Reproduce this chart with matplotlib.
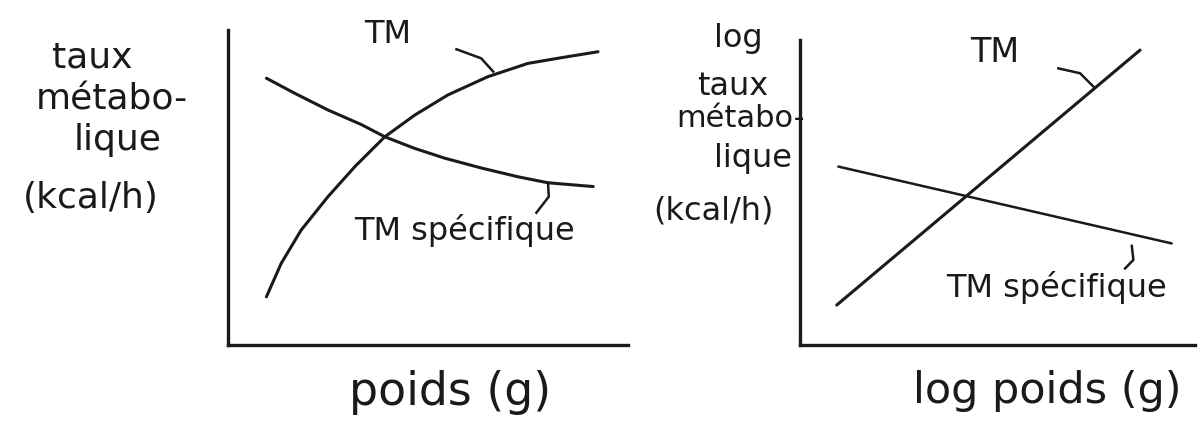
import numpy as np
import matplotlib.pyplot as plt

# points (arbitrary units, 0..10)
tm_x = [0.96, 1.33, 1.83, 2.5, 3.17, 3.92, 4.67, 5.5, 6.5, 7.5, 8.33, 9.25]
tm_y = [1.53, 2.59, 3.65, 4.71, 5.66, 6.61, 7.30, 7.94, 8.52, 8.94, 9.12, 9.31]
tms_x = [0.96, 1.67, 2.5, 3.33, 3.92, 4.67, 5.42, 6.33, 7.25, 8.0, 9.13]
tms_y = [8.47, 7.99, 7.46, 7.0, 6.61, 6.24, 5.93, 5.62, 5.34, 5.15, 5.03]

log_tm_x = [0.93, 8.61]
log_tm_y = [1.31, 9.67]
log_tms_x = [0.97, 9.41]
log_tms_y = [5.85, 3.33]

W, H = 1199, 424
ink = "#1a1a1a"
plt.rcParams['font.family'] = ['DejaVu Sans']
fig = plt.figure(figsize=(W / 100, H / 100), dpi=100)


def label(px, py, s, size):
    # px, py : position du texte en pixels (origine en haut à gauche), ligne de base
    fig.text(px / W, 1 - py / H, s, fontsize=size, color=ink,
             ha="center", va="baseline")


def setup(ax):
    ax.set_xlim(0, 10)
    ax.set_ylim(0, 10)
    for s in ["top", "right"]:
        ax.spines[s].set_visible(False)
    for s in ["left", "bottom"]:
        ax.spines[s].set_linewidth(2.4)
        ax.spines[s].set_color(ink)
    ax.set_xticks([])
    ax.set_yticks([])
    ax.patch.set_alpha(0)


# ---- graphique gauche ----
ax1 = fig.add_axes([228 / W, 1 - 345 / H, 400 / W, 315 / H])
setup(ax1)
ax1.plot(tm_x, tm_y, color=ink, lw=2.2, solid_capstyle="round", solid_joinstyle="round")
ax1.plot(tms_x, tms_y, color=ink, lw=2.2, solid_capstyle="round", solid_joinstyle="round")
ax1.plot([5.71, 6.33, 6.63], [9.39, 9.10, 8.68], color=ink, lw=1.8)
ax1.plot([8.0, 8.02, 7.71], [5.15, 4.71, 4.2], color=ink, lw=1.8)

label(388, 43, "TM", 23)
label(464, 240, "TM spécifique", 23)
label(92, 67, "taux", 26)
label(112, 110, "métabo-", 26)
label(118, 150, "lique", 26)
label(91, 208, "(kcal/h)", 26)
label(450, 405, "poids (g)", 33)

# ---- graphique droite (log) ----
ax2 = fig.add_axes([800 / W, 1 - 345 / H, 395 / W, 305 / H])
setup(ax2)
ax2.plot(log_tm_x, log_tm_y, color=ink, lw=2.2, solid_capstyle="round")
ax2.plot(log_tms_x, log_tms_y, color=ink, lw=1.8, solid_capstyle="round")
ax2.plot([6.54, 7.09, 7.43], [9.07, 8.91, 8.47], color=ink, lw=1.8)
ax2.plot([8.40, 8.44, 8.23], [3.25, 2.79, 2.51], color=ink, lw=1.8)

label(995, 62, "TM", 24)
label(1056, 297, "TM spécifique", 23)
label(738, 47, "log", 23)
label(733, 95, "taux", 23)
label(741, 127, "métabo-", 22)
label(753, 167, "lique", 23)
label(713, 220, "(kcal/h)", 23)
label(1047, 403, "log poids (g)", 31)

fig.savefig("out.png", dpi=100, facecolor="white")
